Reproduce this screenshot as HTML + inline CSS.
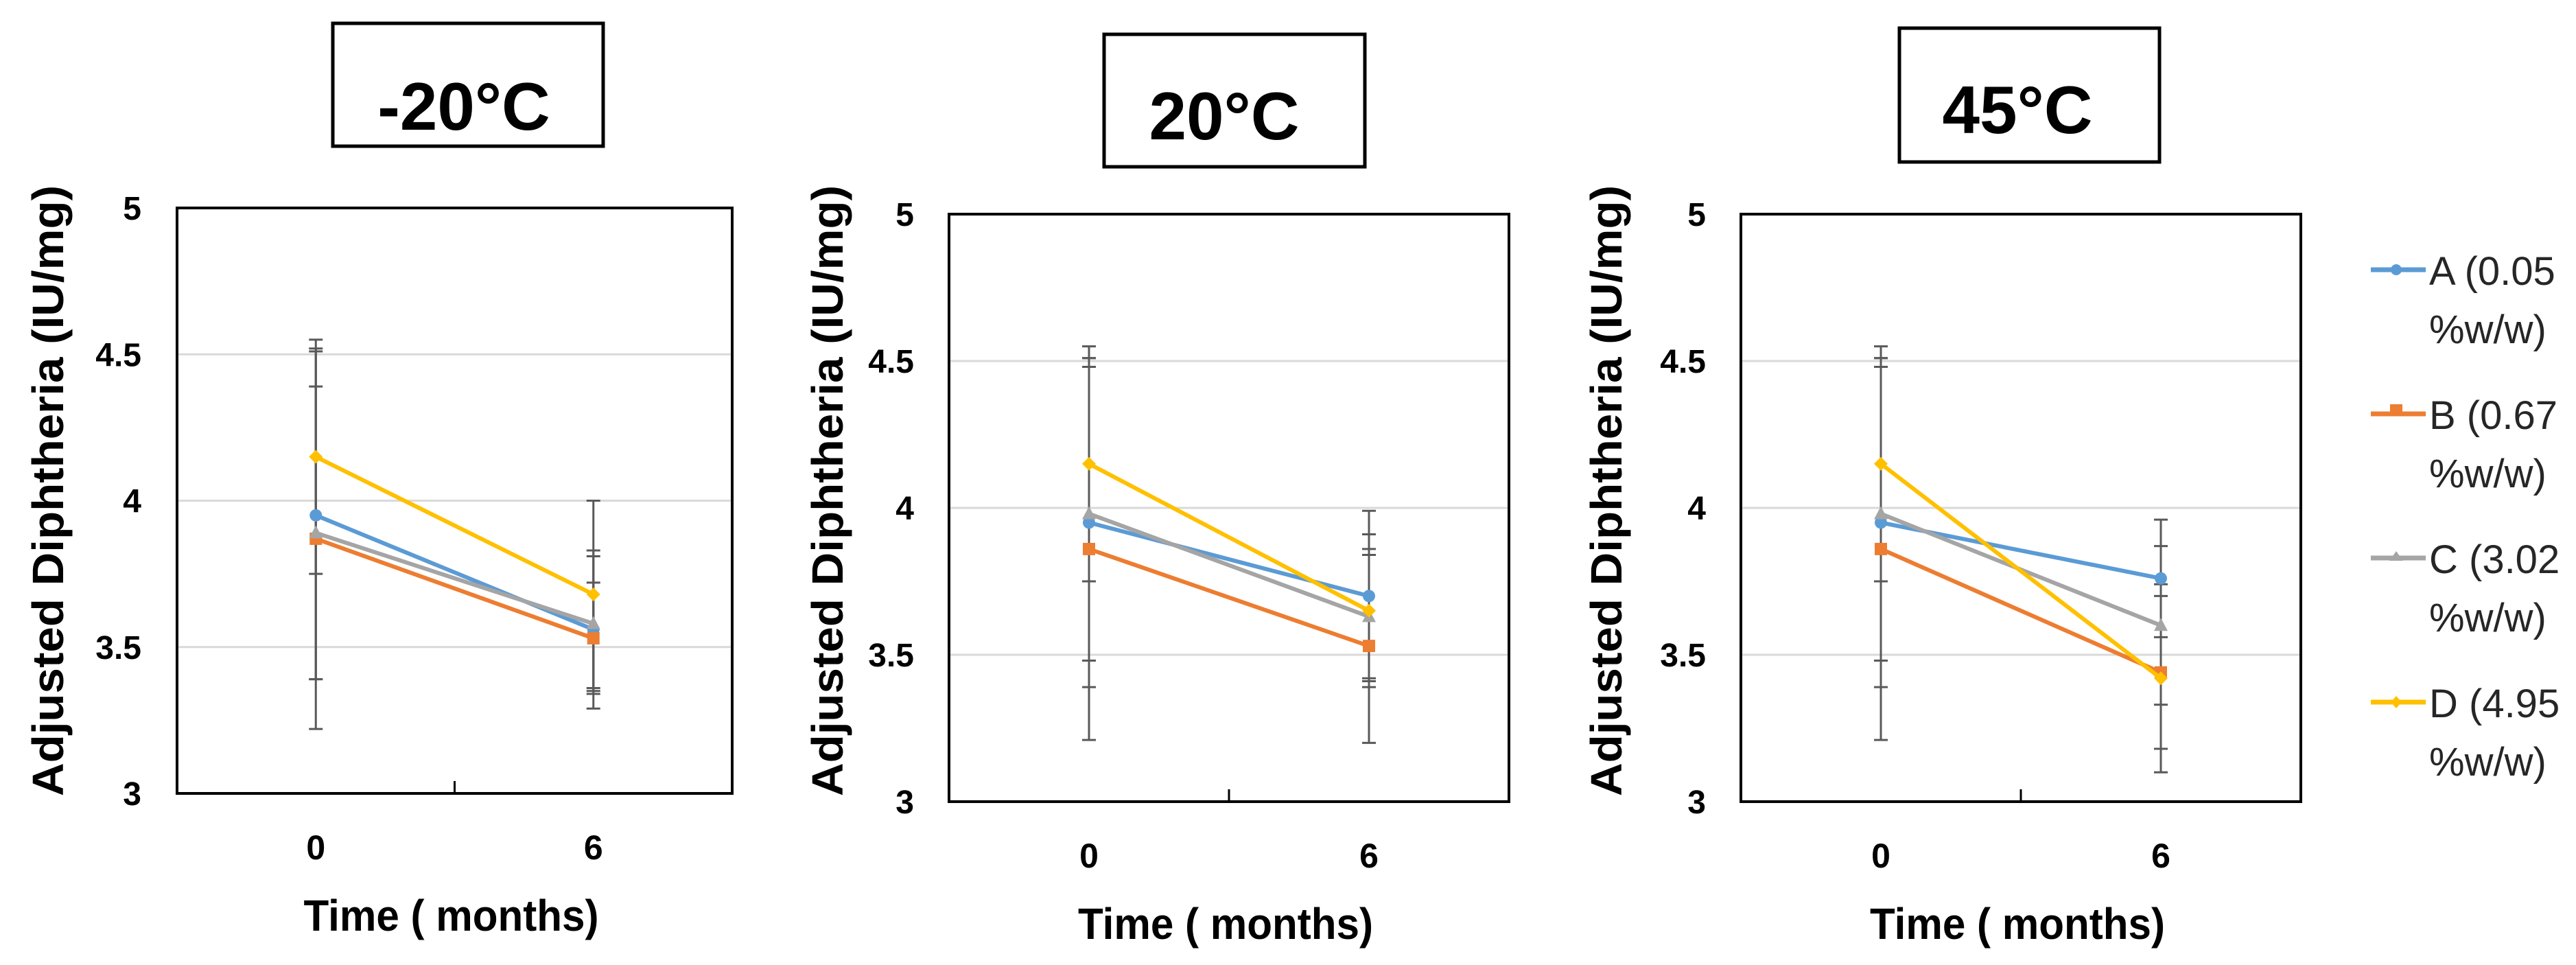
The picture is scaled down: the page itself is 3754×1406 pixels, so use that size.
<!DOCTYPE html>
<html><head><meta charset="utf-8"><style>
html,body{margin:0;padding:0;background:#fff;}
svg{display:block;font-family:"Liberation Sans",sans-serif;}
</style></head><body>
<svg id="chart" width="3754" height="1406" viewBox="0 0 3754 1406" xmlns="http://www.w3.org/2000/svg"></svg>
<script>
const panelTitles = ["-20°C", "20°C", "45°C"];
const xCategories = ["0", "6"];
const yTicks = [3, 3.5, 4, 4.5, 5];
const yTickLabels = ["3", "3.5", "4", "4.5", "5"];
const seriesNames = ["A (0.05", "B (0.67", "C (3.02", "D (4.95"];
const seriesColors = ["#5B9BD5", "#ED7D31", "#A5A5A5", "#FFC000"];
// values per panel: [series][timepoint]
const valuesCold = [[3.95, 3.56], [3.87, 3.53], [3.89, 3.58], [4.15, 3.68]];
const valuesRoom = [[3.95, 3.70], [3.86, 3.53], [3.98, 3.63], [4.15, 3.65]];
const valuesHot  = [[3.95, 3.76], [3.86, 3.44], [3.98, 3.60], [4.15, 3.42]];
const errorsCold = [[0.56, 0.27], [0.65, 0.19], [0.50, 0.23], [0.40, 0.32]];
const errorsRoom = [[0.56, 0.29], [0.65, 0.33], [0.50, 0.21], [0.40, 0.26]];
const errorsHot  = [[0.56, 0.20], [0.65, 0.26], [0.50, 0.27], [0.40, 0.32]];

const panels = [
  {values: valuesCold, errors: errorsCold, L:258, R:1067, T:303, B:1156, yl:206, yt:70,
   box:[485,34,394,179], tx:676, ty:189},
  {values: valuesRoom, errors: errorsRoom, L:1383, R:2199, T:312, B:1168, yl:1332, yt:1206,
   box:[1609,50,380,193], tx:1784, ty:203},
  {values: valuesHot, errors: errorsHot, L:2537, R:3353, T:312, B:1168, yl:2486, yt:2341,
   box:[2768,41,379,195], tx:2940, ty:194}
];
const NS = "http://www.w3.org/2000/svg";
const svg = document.getElementById("chart");
function mk(tag, attrs, parent){
  const e = document.createElementNS(NS, tag);
  for (const k in attrs) e.setAttribute(k, attrs[k]);
  (parent||svg).appendChild(e);
  return e;
}
panels.forEach((p, pi) => {
  const g = mk("g", {});
  
  
  const W = p.R - p.L;
  const x0 = p.L + W*0.25, x1 = p.L + W*0.75;
  const xScale = i => x0 + (x1 - x0) * i;
  const yScale = v => p.B - (v - 3) / 2 * (p.B - p.T);
  // title box
  const tb = mk("rect", {x:p.box[0], y:p.box[1], width:p.box[2], height:p.box[3], fill:"#fff", stroke:"#000", "stroke-width":5}, g);
  
  
  const tt = mk("text", {x:p.tx, y:p.ty, "text-anchor":"middle", "font-size":98, "font-weight":"bold", fill:"#000"}, g);
  tt.textContent = panelTitles[pi];
  
  
  // gridlines
  yTicks.forEach((t, i) => {
    if (t > 3 && t < 5) {
      const gl = mk("line", {x1:p.L, x2:p.R, y1:yScale(t), y2:yScale(t), stroke:"#d9d9d9", "stroke-width":3}, g);
      
      
    }
    const tl = mk("text", {x:p.yl, y:yScale(t)+17, "text-anchor":"end", "font-size":48, "font-weight":"bold", fill:"#000"}, g);
    tl.textContent = yTickLabels[i];
    
    
  });
  // frame
  const fr = mk("rect", {x:p.L, y:p.T, width:W, height:p.B-p.T, fill:"none", stroke:"#000", "stroke-width":4}, g);
  
  
  const mt = mk("line", {x1:(p.L+p.R)/2, x2:(p.L+p.R)/2, y1:p.B-18, y2:p.B, stroke:"#000", "stroke-width":3}, g);
  
  
  // x ticks
  xCategories.forEach((c, i) => {
    const xl = mk("text", {x:xScale(i), y:p.B+96, "text-anchor":"middle", "font-size":50, "font-weight":"bold", fill:"#000"}, g);
    xl.textContent = c;
    
    
  });
  const xt = mk("text", {x:(p.L+p.R)/2 - 5, y:p.B+200, "text-anchor":"middle", "font-size":64, "font-weight":"bold", fill:"#000", textLength:430, lengthAdjust:"spacingAndGlyphs"}, g);
  xt.textContent = "Time ( months)";
  
  
  const yc = 715;
  const yt = mk("text", {x:0, y:0, transform:`translate(${p.yt+22},${yc}) rotate(-90)`, "text-anchor":"middle", "font-size":64, "font-weight":"bold", fill:"#000", textLength:890, lengthAdjust:"spacingAndGlyphs"}, g);
  yt.textContent = "Adjusted Diphtheria (IU/mg)";
  
  
  // error bars
  p.values.forEach((s, si) => {
    s.forEach((v, i) => {
      const e = p.errors[si][i], x = xScale(i);
      const eb = mk("path", {d:`M${x},${yScale(v+e)}V${yScale(v-e)}M${x-10},${yScale(v+e)}h20M${x-10},${yScale(v-e)}h20`, stroke:"#595959", "stroke-width":3, fill:"none"}, g);
      
      
    });
  });
  // series lines & markers
  p.values.forEach((s, si) => {
    const col = seriesColors[si];
    const ln = mk("polyline", {points:s.map((v,i)=>xScale(i)+","+yScale(v)).join(" "), stroke:col, "stroke-width":6, fill:"none"}, g);
    
    
    s.forEach((v, i) => {
      const x = xScale(i), y = yScale(v);
      let m;
      if (si === 0) m = mk("circle", {cx:x, cy:y, r:9, fill:col}, g);
      else if (si === 1) m = mk("rect", {x:x-9, y:y-9, width:18, height:18, fill:col}, g);
      else if (si === 2) m = mk("path", {d:`M${x},${y-11}L${x+10},${y+8}L${x-10},${y+8}Z`, fill:col}, g);
      else m = mk("path", {d:`M${x},${y-10}L${x+10},${y}L${x},${y+10}L${x-10},${y}Z`, fill:col}, g);
      
      
    });
  });
});
// legend
seriesNames.forEach((n, i) => {
  const y = 393 + i*210;
  const lg = mk("g", {});
  
  
  mk("line", {x1:3455, x2:3535, y1:y, y2:y, stroke:seriesColors[i], "stroke-width":7}, lg);
  if (i===0) mk("circle", {cx:3492, cy:y, r:8, fill:seriesColors[i]}, lg);
  else if (i===1) mk("rect", {x:3483, y:y-14, width:18, height:14, fill:seriesColors[i]}, lg);
  else if (i===2) mk("path", {d:`M3492,${y-10}L3502,${y+4}L3482,${y+4}Z`, fill:seriesColors[i]}, lg);
  else mk("path", {d:`M3492,${y-9}L3500,${y}L3492,${y+9}L3484,${y}Z`, fill:seriesColors[i]}, lg);
  const t1 = mk("text", {x:3540, y:y+22, "font-size":58, fill:"#262626"}, lg);
  t1.textContent = n;
  const t2 = mk("text", {x:3540, y:y+107, "font-size":58, fill:"#262626"}, lg);
  t2.textContent = "%w/w)";
});
</script>
</body></html>
